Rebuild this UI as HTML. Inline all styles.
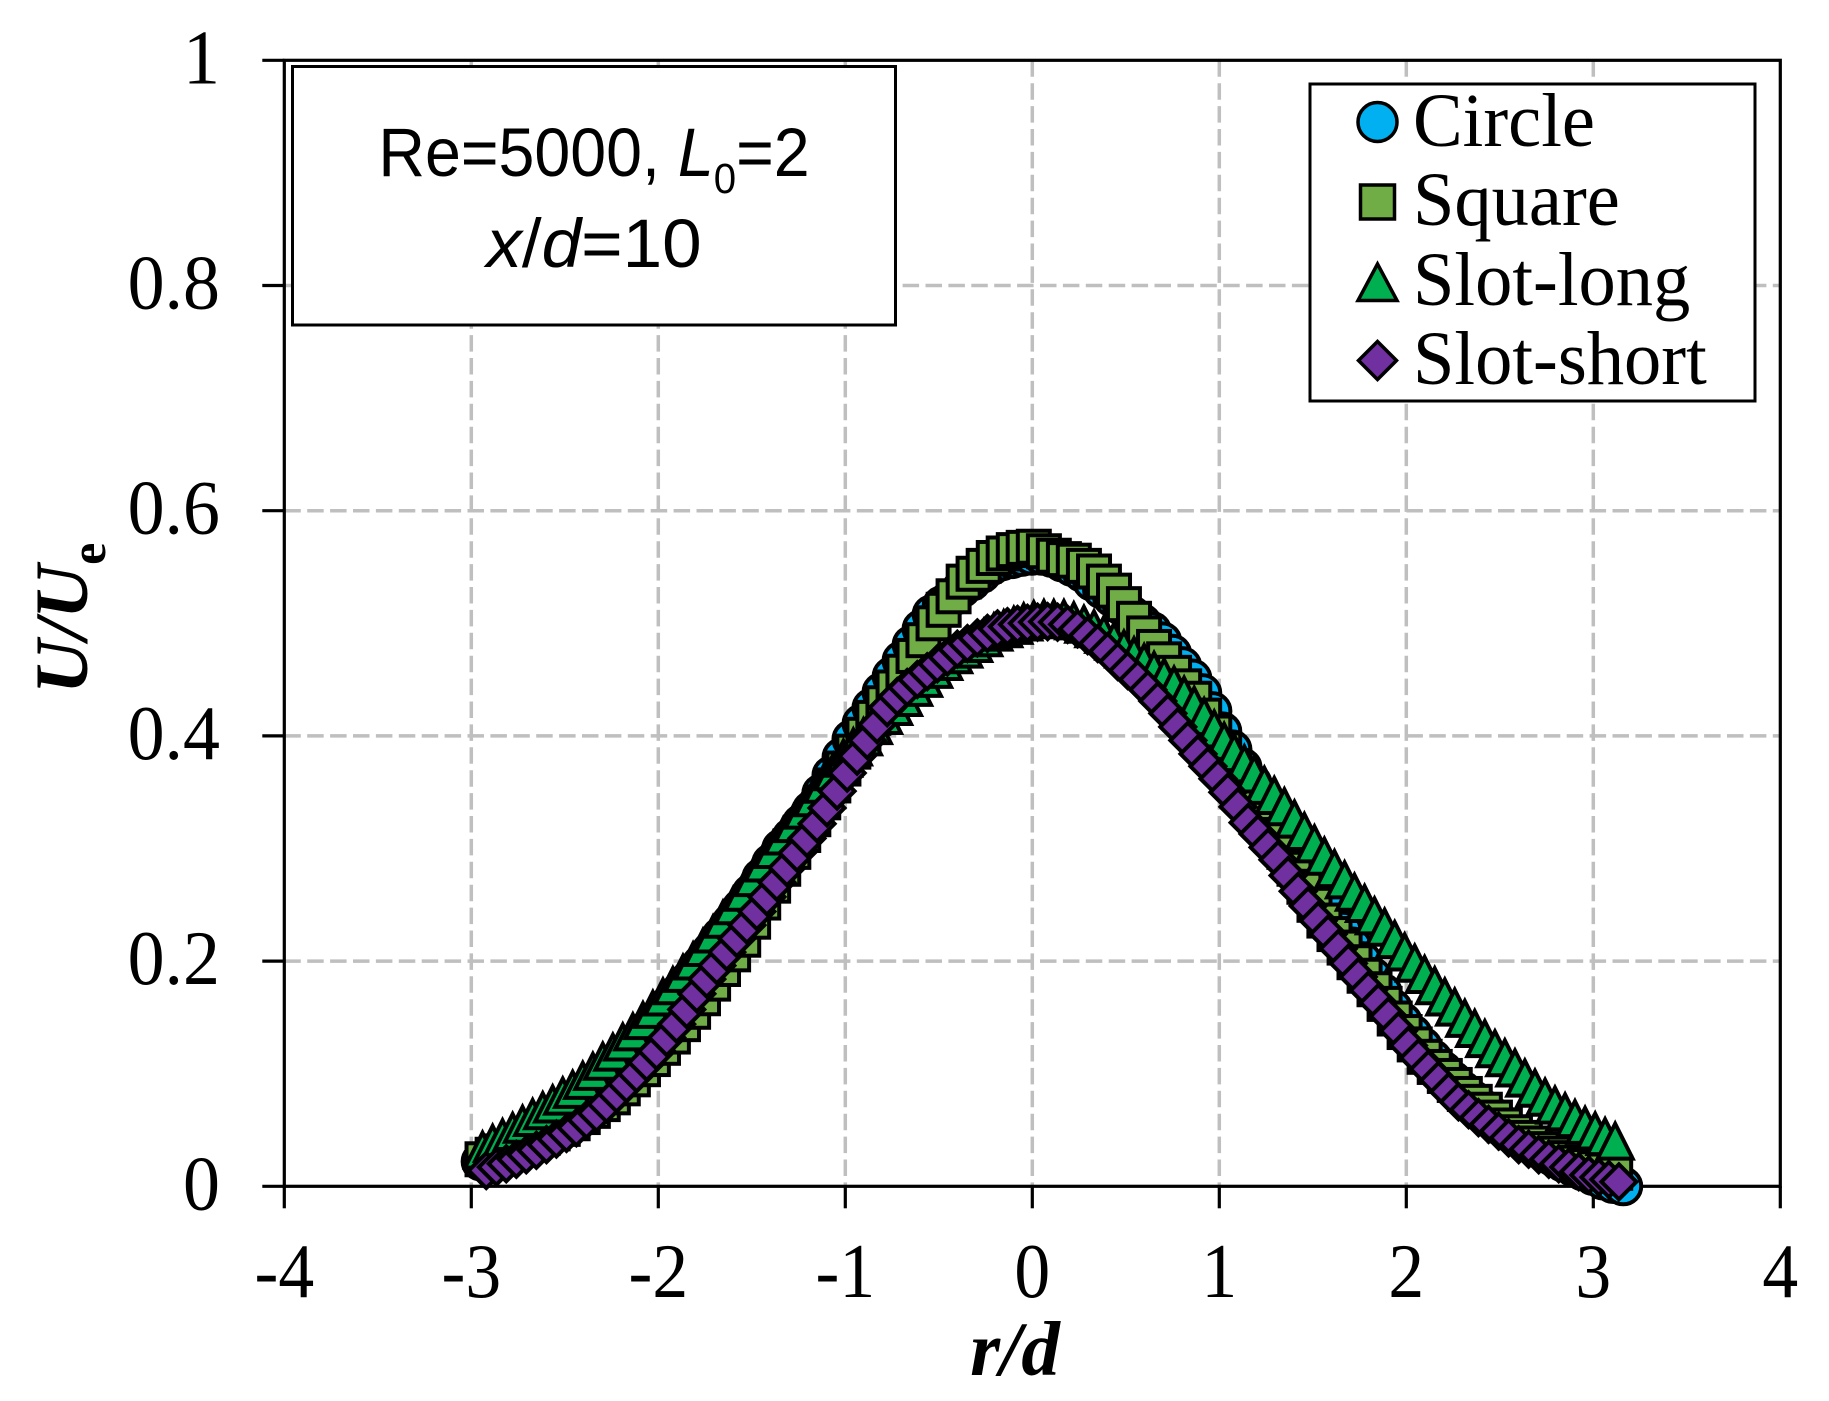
<!DOCTYPE html>
<html lang="en">
<head>
<meta charset="utf-8">
<title>U/Ue versus r/d profile</title>
<style>
  html, body { margin: 0; padding: 0; background: #ffffff; }
  svg { display: block; }
  text { fill: #000000; }
  .serif { font-family: "Liberation Serif", serif; }
  .sans { font-family: "Liberation Sans", sans-serif; }
</style>
</head>
<body>
<svg id="chart" xmlns="http://www.w3.org/2000/svg" width="1829" height="1401" viewBox="0 0 1829 1401">
  <rect x="0" y="0" width="1829" height="1401" fill="#ffffff"/>
  <g id="grid"></g>
  <g id="axes"></g>
  <g id="series"></g>

  <text class="serif" x="1015" y="1375" text-anchor="middle" font-size="77" font-weight="bold" font-style="italic">r/d</text>
  <text class="serif" transform="translate(87,694) rotate(-90)" font-size="75" font-weight="bold" font-style="italic">U/U<tspan font-size="50" font-style="normal" dy="18">e</tspan></text>

  <g>
    <rect x="292.5" y="66.5" width="603" height="258.5" fill="#ffffff" stroke="#000000" stroke-width="3"/>
    <text class="sans" transform="translate(594,176) scale(0.935,1)" text-anchor="middle" font-size="69">Re=5000, <tspan font-style="italic">L</tspan><tspan font-size="43" dy="17">0</tspan><tspan dy="-17">=2</tspan></text>
    <text class="sans" transform="translate(594,267) scale(1.03,1)" text-anchor="middle" font-size="69"><tspan font-style="italic">x</tspan>/<tspan font-style="italic">d</tspan>=10</text>
  </g>

  <g>
    <rect x="1310" y="84" width="445" height="317" fill="#ffffff" stroke="#000000" stroke-width="3"/>
    <g>
      <circle cx="1377.5" cy="122" r="19.5" fill="#00B0F0" stroke="#000000" stroke-width="3.5"/>
      <text class="serif" transform="translate(1413,146) scale(0.98,1)" font-size="76">Circle</text>
    </g>
    <g>
      <rect x="1360.5" y="185" width="34" height="34" fill="#70AD47" stroke="#000000" stroke-width="3.5"/>
      <text class="serif" transform="translate(1413,225) scale(0.98,1)" font-size="76">Square</text>
    </g>
    <g>
      <polygon points="1377.5,264 1397,300.5 1358,300.5" fill="#00B050" stroke="#000000" stroke-width="3.5"/>
      <text class="serif" transform="translate(1413,305) scale(0.98,1)" font-size="76">Slot-long</text>
    </g>
    <g>
      <polygon points="1377.5,341.5 1396.5,360.5 1377.5,379.5 1358.5,360.5" fill="#7030A0" stroke="#000000" stroke-width="3.5"/>
      <text class="serif" transform="translate(1413,384) scale(0.98,1)" font-size="76">Slot-short</text>
    </g>
  </g>
</svg>

<script>
// Axis tick values and labels
const xTickValues = [-4, -3, -2, -1, 0, 1, 2, 3, 4];
const xTickLabels = ['-4', '-3', '-2', '-1', '0', '1', '2', '3', '4'];
const yTickValues = [0, 0.2, 0.4, 0.6, 0.8, 1];
const yTickLabels = ['0', '0.2', '0.4', '0.6', '0.8', '1'];

// Shared radial sampling locations, r/d
const rOverD = [
  -2.94,-2.886,-2.833,-2.779,-2.726,-2.672,-2.618,-2.565,-2.511,-2.458,
  -2.404,-2.35,-2.297,-2.243,-2.19,-2.136,-2.082,-2.029,-1.975,-1.922,
  -1.868,-1.814,-1.761,-1.707,-1.654,-1.6,-1.546,-1.493,-1.439,-1.386,
  -1.332,-1.278,-1.225,-1.171,-1.118,-1.064,-1.01,-0.957,-0.903,-0.85,
  -0.796,-0.742,-0.689,-0.635,-0.582,-0.528,-0.474,-0.421,-0.367,-0.314,
  -0.26,-0.206,-0.153,-0.099,-0.046,0.008,0.062,0.115,0.169,0.222,
  0.276,0.33,0.383,0.437,0.49,0.544,0.598,0.651,0.705,0.758,
  0.812,0.866,0.919,0.973,1.026,1.08,1.134,1.187,1.241,1.294,
  1.348,1.402,1.455,1.509,1.562,1.616,1.67,1.723,1.777,1.83,
  1.884,1.938,1.991,2.045,2.098,2.152,2.206,2.259,2.313,2.366,
  2.42,2.474,2.527,2.581,2.634,2.688,2.742,2.795,2.849,2.902,
  2.956,3.01,3.063,3.117,3.17
];

// Small per-nozzle shift of the sampling locations, r/d
const circleShift = -0.01;
const squareShift = 0;
const triangleShift = 0;
const diamondShift = 0.02;

// U/Ue values
const circleValues = [
  0.022,0.025,0.029,0.034,0.039,0.045,0.051,0.057,0.063,0.07,
  0.078,0.086,0.095,0.104,0.113,0.122,0.132,0.142,0.152,0.163,
  0.174,0.185,0.197,0.209,0.222,0.234,0.247,0.26,0.274,0.287,
  0.3,0.31,0.322,0.334,0.349,0.365,0.381,0.397,0.411,0.425,
  0.439,0.453,0.467,0.481,0.495,0.508,0.516,0.523,0.531,0.537,
  0.544,0.551,0.555,0.557,0.559,0.56,0.56,0.558,0.554,0.55,
  0.545,0.537,0.53,0.523,0.515,0.507,0.5,0.493,0.484,0.473,
  0.462,0.451,0.438,0.422,0.404,0.388,0.372,0.358,0.347,0.336,
  0.323,0.308,0.292,0.276,0.259,0.242,0.227,0.213,0.2,0.186,
  0.172,0.158,0.146,0.135,0.124,0.113,0.103,0.094,0.085,0.077,
  0.069,0.062,0.055,0.048,0.042,0.036,0.031,0.026,0.021,0.017,
  0.013,0.009,0.005,0.002,0
];
const squareValues = [
  0.024,0.028,0.031,0.034,0.037,0.04,0.043,0.047,0.051,0.056,
  0.0615,0.067,0.073,0.079,0.087,0.095,0.104,0.113,0.123,0.133,
  0.144,0.155,0.167,0.18,0.193,0.206,0.219,0.235,0.252,0.267,
  0.282,0.297,0.312,0.326,0.341,0.356,0.371,0.386,0.401,0.416,
  0.429,0.443,0.457,0.471,0.485,0.5,0.512,0.524,0.537,0.544,
  0.551,0.558,0.562,0.565,0.567,0.568,0.564,0.56,0.557,0.5556,
  0.551,0.546,0.537,0.529,0.517,0.504,0.491,0.479,0.468,0.456,
  0.444,0.433,0.418,0.403,0.388,0.373,0.358,0.342,0.327,0.312,
  0.297,0.282,0.266,0.25,0.236,0.224,0.212,0.199,0.187,0.175,
  0.162,0.149,0.137,0.126,0.115,0.106,0.098,0.09,0.082,0.075,
  0.068,0.061,0.054,0.048,0.043,0.038,0.033,0.029,0.025,0.021,
  0.018,0.016,0.014,0.012
];
const triangleValues = [
  0.033,0.039,0.044,0.0496,0.056,0.062,0.068,0.074,0.081,0.087,
  0.095,0.103,0.112,0.12,0.129,0.138,0.148,0.158,0.169,0.179,
  0.19,0.201,0.213,0.225,0.238,0.25,0.262,0.275,0.288,0.3,
  0.312,0.323,0.335,0.346,0.358,0.369,0.381,0.391,0.4,0.41,
  0.419,0.427,0.435,0.444,0.452,0.46,0.467,0.473,0.478,0.483,
  0.488,0.493,0.496,0.499,0.502,0.504,0.505,0.505,0.505,0.503,
  0.5,0.496,0.491,0.485,0.478,0.472,0.466,0.459,0.453,0.446,
  0.437,0.428,0.418,0.407,0.396,0.386,0.376,0.367,0.357,0.348,
  0.338,0.327,0.316,0.305,0.294,0.283,0.273,0.262,0.252,0.241,
  0.231,0.22,0.209,0.199,0.189,0.179,0.169,0.16,0.15,0.141,
  0.132,0.123,0.115,0.106,0.097,0.088,0.08,0.073,0.067,0.061,
  0.055,0.05,0.045,0.041
];
const diamondValues = [
  0.014,0.017,0.02,0.024,0.028,0.032,0.037,0.042,0.047,0.052,
  0.059,0.065,0.073,0.082,0.091,0.1,0.11,0.12,0.132,0.144,
  0.157,0.171,0.184,0.196,0.208,0.22,0.232,0.244,0.257,0.27,
  0.283,0.296,0.309,0.322,0.336,0.351,0.367,0.382,0.396,0.41,
  0.425,0.435,0.443,0.45,0.457,0.464,0.47,0.477,0.482,0.487,
  0.491,0.495,0.497,0.499,0.5,0.501,0.5015,0.501,0.499,0.495,
  0.489,0.482,0.475,0.466,0.458,0.45,0.441,0.431,0.42,0.408,
  0.396,0.384,0.373,0.362,0.35,0.337,0.323,0.313,0.301,0.29,
  0.276,0.262,0.249,0.236,0.224,0.211,0.198,0.186,0.174,0.163,
  0.151,0.138,0.125,0.114,0.104,0.094,0.084,0.075,0.068,0.061,
  0.055,0.049,0.043,0.037,0.033,0.028,0.024,0.02,0.017,0.013,
  0.01,0.008,0.006,0.004
];

// Axis functions
function xScale(v) { return 1032.3 + v * 187; }
function yScale(v) { return 1186.3 - v * 1126; }

const NS = 'http://www.w3.org/2000/svg';
function make(parent, tag, attrs) {
  const el = document.createElementNS(NS, tag);
  for (const k in attrs) { el.setAttribute(k, attrs[k]); }
  parent.appendChild(el);
  return el;
}

const gridGroup = document.getElementById('grid');
const axesGroup = document.getElementById('axes');
const seriesGroup = document.getElementById('series');
const plotLeft = xScale(-4);
const plotRight = xScale(4);
const plotTop = yScale(1);
const plotBottom = yScale(0);

// Gridlines
xTickValues.forEach(function (v) {
  if (v === -4 || v === 4) { return; }
  const line = make(gridGroup, 'line', { x1: xScale(v), x2: xScale(v), y1: plotTop, y2: plotBottom, stroke: '#bfbfbf', 'stroke-width': 3.5, 'stroke-dasharray': '16.5 6.4' });
  
  
});
yTickValues.forEach(function (v) {
  if (v === 0 || v === 1) { return; }
  const line = make(gridGroup, 'line', { x1: plotLeft, x2: plotRight, y1: yScale(v), y2: yScale(v), stroke: '#bfbfbf', 'stroke-width': 3.5, 'stroke-dasharray': '16.5 6.4' });
  
  
});

// Plot frame
const frame = make(axesGroup, 'rect', { x: plotLeft, y: plotTop, width: plotRight - plotLeft, height: plotBottom - plotTop, fill: 'none', stroke: '#000000', 'stroke-width': 3.2 });



// X ticks and labels
xTickValues.forEach(function (v, i) {
  const tick = make(axesGroup, 'line', { x1: xScale(v), x2: xScale(v), y1: plotBottom, y2: plotBottom + 22, stroke: '#000000', 'stroke-width': 3.2 });
  
  
  const label = make(axesGroup, 'text', { transform: 'translate(' + xScale(v) + ',1297) scale(0.93,1)', 'text-anchor': 'middle', 'font-size': 77, class: 'serif' });
  label.textContent = xTickLabels[i];
  
  
});

// Y ticks and labels
yTickValues.forEach(function (v, i) {
  const tick = make(axesGroup, 'line', { x1: plotLeft - 22, x2: plotLeft, y1: yScale(v), y2: yScale(v), stroke: '#000000', 'stroke-width': 3.2 });
  
  
  const label = make(axesGroup, 'text', { transform: 'translate(220,' + (yScale(v) + 23) + ') scale(0.96,1)', 'text-anchor': 'end', 'font-size': 77, class: 'serif' });
  label.textContent = yTickLabels[i];
  
  
});

// Series markers, drawn in plotting order
circleValues.forEach(function (v, i) {
  const m = make(seriesGroup, 'circle', { cx: xScale(rOverD[i] + circleShift), cy: yScale(v), r: 18, fill: '#00B0F0', stroke: '#000000', 'stroke-width': 4 });
  
  
});
squareValues.forEach(function (v, i) {
  const cx = xScale(rOverD[i] + squareShift);
  const cy = yScale(v);
  const m = make(seriesGroup, 'rect', { x: cx - 16, y: cy - 16, width: 32, height: 32, fill: '#70AD47', stroke: '#000000', 'stroke-width': 4 });
  
  
});
triangleValues.forEach(function (v, i) {
  const cx = xScale(rOverD[i] + triangleShift);
  const cy = yScale(v);
  const pts = cx + ',' + (cy - 16.4) + ' ' + (cx + 17.5) + ',' + (cy + 18.5) + ' ' + (cx - 17.5) + ',' + (cy + 18.5);
  const m = make(seriesGroup, 'polygon', { points: pts, fill: '#00B050', stroke: '#000000', 'stroke-width': 4 });
  
  
});
diamondValues.forEach(function (v, i) {
  const cx = xScale(rOverD[i] + diamondShift);
  const cy = yScale(v);
  const pts = cx + ',' + (cy - 17.5) + ' ' + (cx + 17.5) + ',' + cy + ' ' + cx + ',' + (cy + 17.5) + ' ' + (cx - 17.5) + ',' + cy;
  const m = make(seriesGroup, 'polygon', { points: pts, fill: '#7030A0', stroke: '#000000', 'stroke-width': 4 });
  
  
});
</script>
</body>
</html>
